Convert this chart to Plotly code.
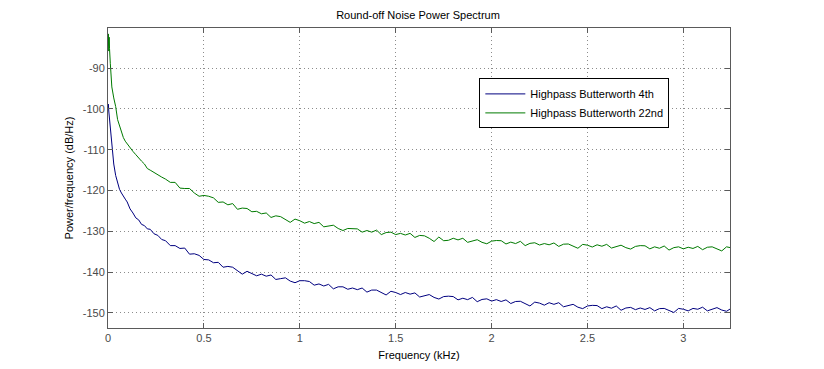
import plotly.graph_objects as go

freq_khz = [
    0, 0.002, 0.004, 0.006, 0.008, 0.012, 0.016, 0.02, 0.03, 0.04, 0.05, 0.06, 0.07, 0.08, 0.09, 0.10,
    0.115, 0.13, 0.145, 0.16, 0.175, 0.19, 0.205, 0.22, 0.24, 0.26, 0.28,
    0.300, 0.325, 0.350, 0.375, 0.400, 0.425, 0.450, 0.475, 0.500, 0.525,
    0.550, 0.575, 0.600, 0.625, 0.650, 0.675, 0.700, 0.725, 0.750, 0.775,
    0.800, 0.825, 0.850, 0.875, 0.900, 0.925, 0.950, 0.975, 1.000, 1.025,
    1.050, 1.075, 1.100, 1.125, 1.150, 1.175, 1.200, 1.225, 1.250, 1.275,
    1.300, 1.325, 1.350, 1.375, 1.400, 1.425, 1.450, 1.475, 1.500, 1.525,
    1.550, 1.575, 1.600, 1.625, 1.650, 1.675, 1.700, 1.725, 1.750, 1.775,
    1.800, 1.825, 1.850, 1.875, 1.900, 1.925, 1.950, 1.975, 2.000, 2.025,
    2.050, 2.075, 2.100, 2.125, 2.150, 2.175, 2.200, 2.225, 2.250, 2.275,
    2.300, 2.325, 2.350, 2.375, 2.400, 2.425, 2.450, 2.475, 2.500, 2.525,
    2.550, 2.575, 2.600, 2.625, 2.650, 2.675, 2.700, 2.725, 2.750, 2.775,
    2.800, 2.825, 2.850, 2.875, 2.900, 2.925, 2.950, 2.975, 3.000, 3.025,
    3.050, 3.075, 3.100, 3.125, 3.150, 3.175, 3.200, 3.225, 3.245,
]

psd_4th = [
    -99.0, -98.8, -100.5, -101.5, -103.0, -105.0, -107.5, -110.3, -113.5, -116.3, -118.2, -119.7, -120.6, -121.5, -122.1, -122.8,
    -124.5, -125.5, -126.7, -127.2, -128.3, -128.6, -129.4, -129.5, -130.6, -131.0, -132.0,
    -132.3, -133.5, -133.5, -134.2, -134.1, -135.6, -135.5, -135.9, -136.9, -137.0,
    -137.7, -137.6, -138.8, -138.6, -138.8, -139.7, -140.5, -139.8, -140.3, -140.9,
    -140.5, -141.0, -140.7, -141.8, -141.6, -141.4, -142.2, -142.6, -142.1, -142.1,
    -142.3, -143.2, -142.9, -143.4, -143.0, -144.1, -143.6, -143.6, -144.2, -143.9,
    -144.3, -143.9, -144.9, -144.4, -144.4, -145.0, -145.6, -144.7, -145.0, -145.5,
    -145.0, -145.4, -145.1, -146.1, -145.8, -145.5, -146.2, -146.6, -146.0, -145.9,
    -146.0, -146.8, -146.4, -146.75, -146.2, -147.25, -146.7, -146.55, -147.1, -146.75,
    -147.2, -146.8, -147.7, -147.2, -147.15, -147.7, -148.3, -147.35, -147.6, -148.1,
    -147.5, -147.9, -147.5, -148.5, -148.2, -147.9, -148.6, -148.95, -148.3, -148.15,
    -148.2, -148.95, -148.5, -148.85, -148.3, -149.35, -148.8, -148.65, -149.2, -148.8,
    -149.15, -148.7, -149.5, -148.95, -148.9, -149.4, -149.9, -148.9, -149.1, -149.5,
    -148.9, -149.1, -148.6, -149.5, -149.1, -148.7, -149.3, -149.6, -149.0,
]

psd_22nd = [
    -84.5, -81.6, -85.8, -82.4, -85.2, -88.8, -92.0, -94.6, -97.3, -99.4, -102.6, -104.3, -105.8, -107.0, -107.9, -108.6,
    -109.5, -110.4, -111.2, -112.1, -112.8, -113.5, -114.6, -115.0, -115.6, -116.3, -116.7,
    -117.2, -118.0, -118.0, -119.4, -119.5, -119.5, -120.6, -121.4, -121.2, -121.4,
    -121.8, -122.9, -122.8, -123.5, -123.2, -124.6, -124.3, -124.4, -125.2, -125.1,
    -125.7, -125.5, -126.6, -126.2, -126.4, -127.1, -127.8, -127.0, -127.4, -128.0,
    -127.6, -128.1, -127.8, -128.9, -128.7, -128.5, -129.3, -129.8, -129.3, -129.3,
    -129.4, -130.2, -129.8, -130.2, -129.7, -130.8, -130.3, -130.2, -130.8, -130.5,
    -130.9, -130.5, -131.5, -131.0, -131.1, -131.7, -132.5, -131.4, -132.3, -132.2,
    -131.7, -132.1, -131.7, -132.7, -132.4, -132.05, -132.7, -133.05, -132.4, -132.25,
    -132.3, -133.1, -132.65, -133.0, -132.45, -133.5, -132.95, -132.8, -133.35, -133.0,
    -133.3, -132.85, -133.7, -133.15, -133.1, -133.6, -134.15, -133.2, -133.4, -133.85,
    -133.3, -133.65, -133.2, -134.1, -133.75, -133.4, -134.0, -134.35, -133.7, -133.5,
    -133.55, -134.3, -133.8, -134.15, -133.6, -134.6, -134.0, -133.8, -134.3, -133.9,
    -134.2, -133.7, -134.5, -133.9, -133.8, -134.3, -134.8, -133.8, -134.0,
]

series_names = ["Highpass Butterworth 4th", "Highpass Butterworth 22nd"]
x_ticks = [0, 0.5, 1, 1.5, 2, 2.5, 3]
x_tick_labels = ["0", "0.5", "1", "1.5", "2", "2.5", "3"]
y_ticks = [-150, -140, -130, -120, -110, -100, -90]
y_tick_labels = ["-150", "-140", "-130", "-120", "-110", "-100", "-90"]

FONT = "Liberation Sans, Arial, sans-serif"

fig = go.Figure()
fig.add_trace(go.Scatter(x=freq_khz, y=psd_4th, mode="lines", name=series_names[0],
                         line=dict(color="#00007F", width=1)))
fig.add_trace(go.Scatter(x=freq_khz, y=psd_22nd, mode="lines", name=series_names[1],
                         line=dict(color="#007A00", width=1)))

axis_common = dict(
    showline=True, linecolor="#5a5a5a", linewidth=1, mirror="ticks",
    ticks="inside", ticklen=5, tickcolor="#5a5a5a", automargin=False,
    showgrid=True, gridcolor="#8c8c8c", griddash="1px,3px", gridwidth=1,
    zeroline=False, tickfont=dict(family=FONT, size=11, color="#4a4a4a"),
)

# page body has an 8px margin, so the figure box is offset by 8px
fig.update_layout(
    width=824, height=369,
    paper_bgcolor="white", plot_bgcolor="white",
    margin=dict(l=100, r=102, t=20, b=49, autoexpand=False),
    title=dict(text="Round-off Noise Power Spectrum", x=410 / 824, xanchor="center",
               y=1 - 7 / 369, yanchor="middle",
               font=dict(family=FONT, size=11, color="black")),
    xaxis=dict(range=[0, 3.243], tickvals=x_ticks, ticktext=x_tick_labels,
               title=dict(text="Frequency (kHz)", standoff=8,
                          font=dict(family=FONT, size=11, color="black")),
               **axis_common),
    yaxis=dict(range=[-153.7, -80.15], tickvals=y_ticks, ticktext=y_tick_labels,
               title=dict(text="Power/frequency (dB/Hz)", standoff=6,
                          font=dict(family=FONT, size=11, color="black")),
               **axis_common),
    legend=dict(x=0.597, y=0.832, xanchor="left", yanchor="top",
                bordercolor="black", borderwidth=1, bgcolor="white",
                font=dict(family=FONT, size=11, color="black"),
                tracegroupgap=0, itemwidth=40),
    showlegend=True,
)

fig.write_html("out.html")
